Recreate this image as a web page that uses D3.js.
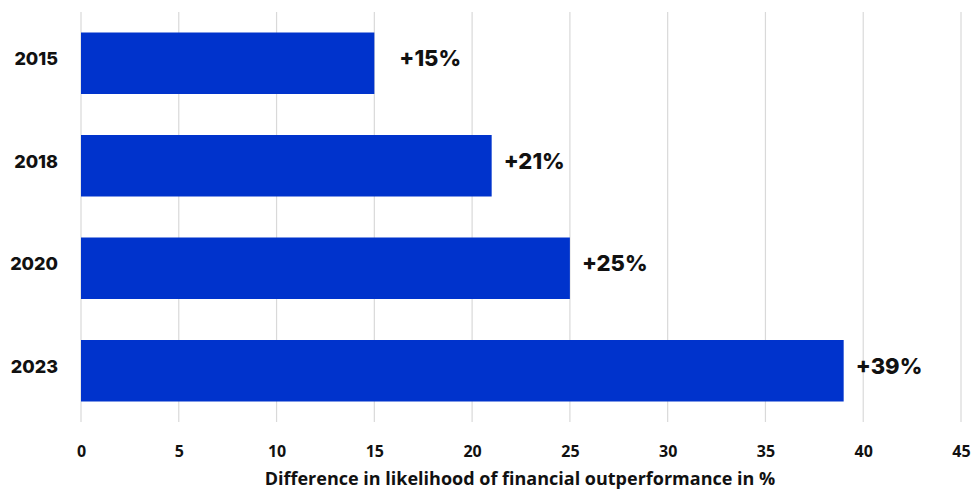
<!DOCTYPE html>
<html>
<head>
<meta charset="utf-8">
<script src="https://cdn.jsdelivr.net/npm/d3@7"></script>
<style>
  body { margin: 0; background: #fff; }
  svg { display: block; }
</style>
</head>
<body>
<div id="chart"></div>
<script>
const WIDTH = 974;
const HEIGHT = 489;
const MARGIN = { top: 12, right: 13, bottom: 67, left: 81 };

const years = ["2015", "2018", "2020", "2023"];
const values = [15, 21, 25, 39];
const labels = ["+15%", "+21%", "+25%", "+39%"];
const xTicks = [0, 5, 10, 15, 20, 25, 30, 35, 40, 45];
const axisTitle = "Difference in likelihood of financial outperformance in %";

const INNER_WIDTH = WIDTH - MARGIN.left - MARGIN.right;
const INNER_HEIGHT = HEIGHT - MARGIN.top - MARGIN.bottom;

var translate = function (x, y) {
  return "translate(" + x + "," + y + ")";
};

var svg = d3.select("#chart").append("svg")
  .attr("width", WIDTH)
  .attr("height", HEIGHT);

var g = svg.append("g").attr("transform", translate(MARGIN.left, MARGIN.top));

var xScale = d3.scaleLinear().domain([0, 45]).range([0, INNER_WIDTH]);
var yScale = d3.scaleBand().domain(years).range([0, INNER_HEIGHT]).paddingInner(0.4).paddingOuter(0.2);

// gridlines
g.selectAll(".grid")
  .data(xTicks)
  .enter().append("line")
  .attr("x1", d => xScale(d)).attr("x2", d => xScale(d))
  .attr("y1", 0).attr("y2", INNER_HEIGHT)
  .attr("stroke", "#d9d9d9")
  .attr("stroke-width", 1.2);

// bars
g.selectAll("rect")
  .data(values)
  .enter().append("rect")
  .attr("x", 0)
  .attr("y", (d, i) => yScale(years[i]))
  .attr("width", d => xScale(d))
  .attr("height", yScale.bandwidth())
  .attr("fill", "#0033cc");

// value labels
g.selectAll(".val")
  .data(values)
  .enter().append("text")
  .attr("x", (d, i) => xScale(d) + (i === 0 ? 25 : 12))
  .attr("y", (d, i) => yScale(years[i]) + yScale.bandwidth() / 2 - 3)
  .attr("dominant-baseline", "middle")
  .attr("font-family", "Inter, 'Open Sans', sans-serif")
  .attr("font-weight", 800)
  .attr("font-size", 22)
  .attr("fill", "#111")
  .text((d, i) => labels[i]);

// x axis
var xAxis = d3.axisBottom(xScale).tickValues(xTicks).tickSize(0).tickPadding(24);
var xg = g.append("g").attr("transform", translate(0, INNER_HEIGHT)).call(xAxis);
xg.select(".domain").remove();
xg.selectAll("text")
  .attr("font-family", "'Open Sans', sans-serif")
  .attr("font-weight", 700)
  .attr("font-size", 16)
  .attr("fill", "#111");

// y axis
var yAxis = d3.axisLeft(yScale).tickSize(0).tickPadding(23);
var yg = g.append("g").call(yAxis);
yg.select(".domain").remove();
yg.selectAll("text")
  .attr("dy", "0.1em")
  .attr("font-family", "Inter, 'Open Sans', sans-serif")
  .attr("font-weight", 800)
  .attr("font-size", 18)
  .attr("fill", "#111");

// axis title
svg.append("text")
  .attr("x", 520)
  .attr("y", 485)
  .attr("text-anchor", "middle")
  .attr("font-family", "'Open Sans', sans-serif")
  .attr("font-weight", 700)
  .attr("font-size", 18)
  .attr("fill", "#111")
  .text(axisTitle);
</script>
</body>
</html>
